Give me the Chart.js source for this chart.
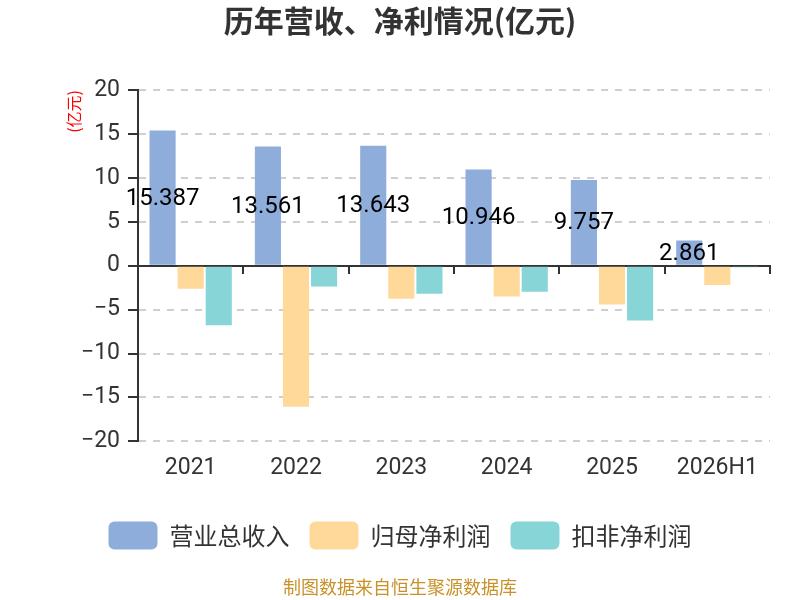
<!DOCTYPE html>
<html lang="zh">
<head>
    <meta charset="UTF-8">
    <title>历年营收、净利情况</title>
    <script src="https://cdn.jsdelivr.net/npm/chart.js"></script>
    <style>
        body { margin: 0; background: #fff; }
        #wrap { width: 800px; height: 600px; }
    </style>
</head>
<body>
    <div id="wrap"><canvas id="myChart"></canvas></div>
    <script>
        // data
        const years = ['2021', '2022', '2023', '2024', '2025', '2026H1'];
        const revenue = [15.387, 13.561, 13.643, 10.946, 9.757, 2.861];
        const netProfit = [-2.63, -16.07, -3.77, -3.5, -4.41, -2.2];
        const deductedProfit = [-6.78, -2.36, -3.2, -2.97, -6.24, -0.18];
        const seriesNames = ['营业总收入', '归母净利润', '扣非净利润'];

        const FONT = 'Roboto, "Noto Sans", sans-serif';
        const CJK = '"Noto Sans CJK SC", sans-serif';

        // value labels in the middle of the revenue bars
        const barLabels = {
            id: 'barLabels',
            afterDatasetsDraw(chart) {
                const ctx = chart.ctx;
                const meta = chart.getDatasetMeta(0);
                ctx.save();
                ctx.font = '24px ' + FONT;
                ctx.fillStyle = '#000';
                ctx.textAlign = 'center';
                ctx.textBaseline = 'middle';
                meta.data.forEach((bar, i) => {
                    ctx.fillText(revenue[i].toFixed(3), bar.x, (bar.y + bar.base) / 2 + 1);
                });
                ctx.restore();
            }
        };

        const ctx = document.getElementById('myChart').getContext('2d');
        new Chart(ctx, {
            type: 'bar',
            data: {
                labels: years,
                datasets: [
                    { label: seriesNames[0], data: revenue, backgroundColor: '#8EADDB' },
                    { label: seriesNames[1], data: netProfit, backgroundColor: '#FFD99A' },
                    { label: seriesNames[2], data: deductedProfit, backgroundColor: '#88D5D8' }
                ]
            },
            options: {
                responsive: true,
                maintainAspectRatio: false,
                animation: false,
                datasets: {
                    bar: { categoryPercentage: 0.8, barPercentage: 0.93 }
                },
                layout: { padding: 0 },
                plugins: {
                    title: {
                        display: true,
                        text: '历年营收、净利情况(亿元)',
                        color: '#333',
                        font: { family: CJK, size: 30, weight: 'bold' },
                        padding: { top: 3, bottom: 51 }
                    },
                    subtitle: {
                        display: true,
                        position: 'bottom',
                        text: '制图数据来自恒生聚源数据库',
                        color: '#C8922A',
                        font: { family: CJK, size: 18 },
                        padding: { top: 17, bottom: 2 }
                    },
                    legend: {
                        position: 'bottom',
                        labels: {
                            boxWidth: 49,
                            boxHeight: 28,
                            useBorderRadius: true,
                            borderRadius: 6,
                            padding: 20,
                            color: '#333',
                            font: { family: CJK, size: 24 }
                        }
                    },
                    tooltip: { enabled: false }
                },
                scales: {
                    x: {
                        position: 'bottom',
                        grid: { display: false, drawTicks: false },
                        border: { display: false },
                        ticks: { color: '#333', padding: 13, font: { family: FONT, size: 23 } },
                        afterFit(scale) { scale.height = 60; }
                    },
                    x2: {
                        type: 'category',
                        labels: years,
                        position: { y: 0 },
                        offset: true,
                        grid: {
                            offset: true,
                            drawOnChartArea: false,
                            drawTicks: true,
                            tickLength: 7,
                            color: '#333',
                            lineWidth: 2
                        },
                        border: { display: true, color: '#333', width: 2 },
                        ticks: { display: false }
                    },
                    y: {
                        min: -20,
                        max: 20,
                        ticks: {
                            stepSize: 5,
                            color: '#333',
                            padding: 8,
                            font: { family: FONT, size: 23 },
                            callback: (v) => String(v).replace('-', '\u2212')
                        },
                        grid: {
                            color: '#cfcfcf',
                            lineWidth: 2,
                            tickColor: '#333',
                            tickLength: 10,
                            tickBorderDash: [],
                            drawTicks: true
                        },
                        border: { display: true, color: '#333', width: 2, dash: [7, 7] },
                        title: {
                            display: true,
                            text: '(亿元)',
                            color: '#f00',
                            align: 'end',
                            font: { family: CJK, size: 16 },
                            padding: { top: 64, bottom: 0 }
                        },
                        afterFit(scale) { scale.width = 138; }
                    },
                    // empty right-hand space so the plot ends at x=770
                    yRight: {
                        position: 'right',
                        min: -20,
                        max: 20,
                        grid: { display: false, drawTicks: false },
                        border: { display: false },
                        ticks: { display: false },
                        afterFit(scale) { scale.width = 30; }
                    }
                }
            },
            plugins: [barLabels]
        });
    </script>
</body>
</html>
